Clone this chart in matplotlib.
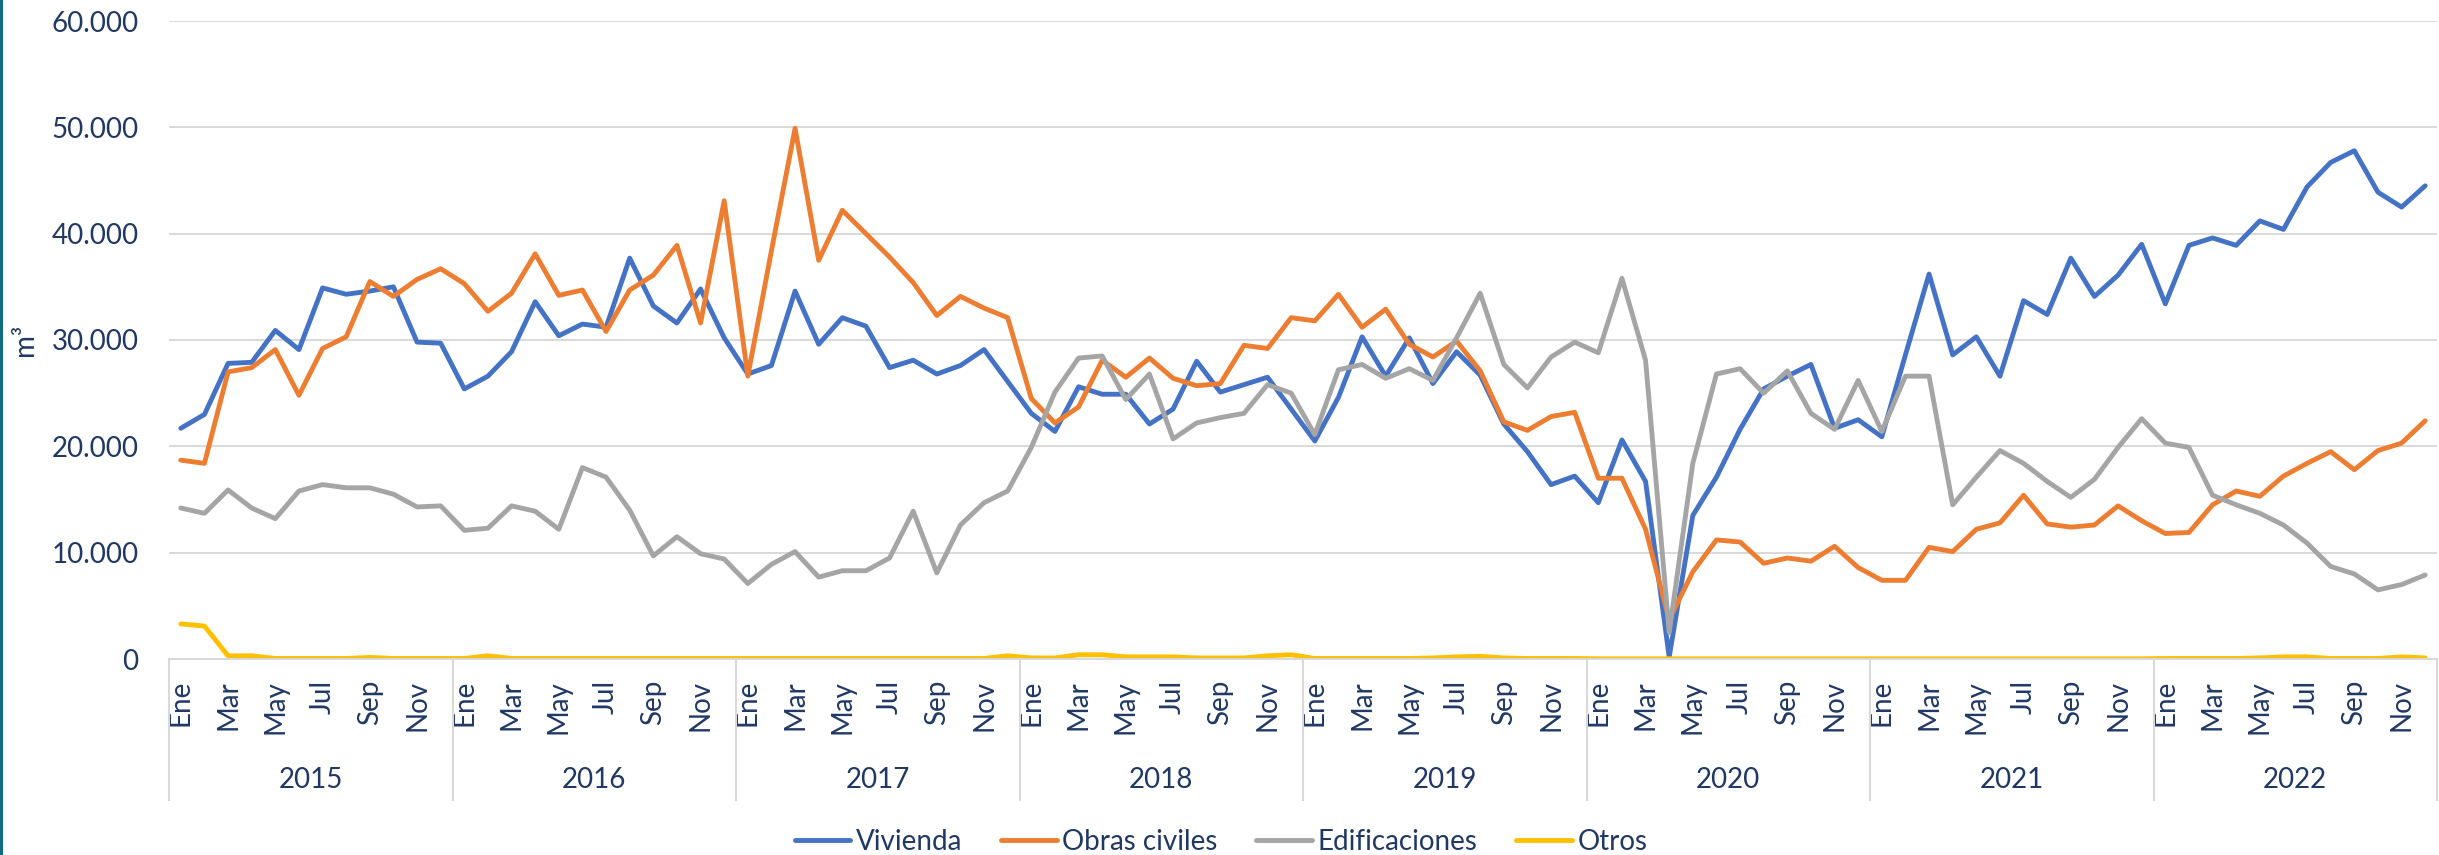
import matplotlib
matplotlib.use("Agg")
import matplotlib.pyplot as plt
import matplotlib.transforms as mtransforms
from matplotlib.patches import Rectangle
from matplotlib.ticker import FuncFormatter
import numpy as np

plt.rcParams['font.family'] = ['Lato', 'DejaVu Sans']

years = ['2015', '2016', '2017', '2018', '2019', '2020', '2021', '2022']
month_labels = ['Ene', 'Mar', 'May', 'Jul', 'Sep', 'Nov']

# monthly values, thousands of m3 (Ene 2015 .. Dic 2022)
vivienda = [21.7, 23.0, 27.8, 27.9, 30.9, 29.1, 34.9, 34.3, 34.6, 35.0, 29.8, 29.7,
            25.4, 26.6, 28.9, 33.6, 30.4, 31.5, 31.2, 37.7, 33.2, 31.6, 34.8, 30.2,
            26.8, 27.6, 34.6, 29.6, 32.1, 31.3, 27.4, 28.1, 26.8, 27.6, 29.1, 26.1,
            23.1, 21.4, 25.6, 24.9, 24.9, 22.1, 23.5, 28.0, 25.1, 25.8, 26.5, 23.5,
            20.5, 24.6, 30.3, 26.6, 30.2, 25.9, 28.9, 26.7, 22.1, 19.5, 16.4, 17.2,
            14.7, 20.6, 16.7, 0.2, 13.5, 17.1, 21.6, 25.4, 26.6, 27.7, 21.7, 22.5,
            20.9, 28.6, 36.2, 28.6, 30.3, 26.6, 33.7, 32.4, 37.7, 34.1, 36.1, 39.0,
            33.4, 38.9, 39.6, 38.9, 41.2, 40.4, 44.4, 46.7, 47.8, 43.9, 42.5, 44.5]

obras_civiles = [18.7, 18.4, 27.0, 27.4, 29.1, 24.8, 29.2, 30.3, 35.5, 34.1, 35.7, 36.7,
                 35.3, 32.7, 34.4, 38.1, 34.2, 34.7, 30.8, 34.7, 36.1, 38.9, 31.6, 43.1,
                 26.6, 38.4, 49.9, 37.5, 42.2, 40.0, 37.8, 35.4, 32.3, 34.1, 33.0, 32.1,
                 24.5, 22.2, 23.7, 28.1, 26.5, 28.3, 26.4, 25.7, 25.9, 29.5, 29.2, 32.1,
                 31.8, 34.3, 31.2, 32.9, 29.6, 28.4, 29.9, 27.1, 22.3, 21.5, 22.8, 23.2,
                 17.0, 17.0, 12.2, 3.7, 8.2, 11.2, 11.0, 9.0, 9.5, 9.2, 10.6, 8.6,
                 7.4, 7.4, 10.5, 10.1, 12.2, 12.8, 15.4, 12.7, 12.4, 12.6, 14.4, 13.0,
                 11.8, 11.9, 14.5, 15.8, 15.3, 17.2, 18.4, 19.5, 17.8, 19.6, 20.3, 22.4]

edificaciones = [14.2, 13.7, 15.9, 14.2, 13.2, 15.8, 16.4, 16.1, 16.1, 15.5, 14.3, 14.4,
                 12.1, 12.3, 14.4, 13.9, 12.2, 18.0, 17.1, 14.0, 9.7, 11.5, 9.9, 9.4,
                 7.1, 8.9, 10.1, 7.7, 8.3, 8.3, 9.5, 13.9, 8.1, 12.6, 14.7, 15.8,
                 19.9, 25.1, 28.3, 28.5, 24.4, 26.8, 20.7, 22.2, 22.7, 23.1, 25.8, 25.0,
                 21.1, 27.2, 27.7, 26.4, 27.3, 26.2, 30.2, 34.4, 27.7, 25.5, 28.4, 29.8,
                 28.8, 35.8, 28.1, 2.5, 18.4, 26.8, 27.3, 25.0, 27.1, 23.1, 21.6, 26.2,
                 21.4, 26.6, 26.6, 14.5, 17.1, 19.6, 18.4, 16.7, 15.2, 16.9, 19.9, 22.6,
                 20.3, 19.9, 15.4, 14.5, 13.7, 12.6, 10.9, 8.7, 8.0, 6.5, 7.0, 7.9]

otros = [3.3, 3.1, 0.3, 0.3, 0.05, 0.05, 0.05, 0.05, 0.15, 0.05, 0.05, 0.05,
         0.05, 0.3, 0.05, 0.05, 0.05, 0.05, 0.05, 0.05, 0.05, 0.05, 0.05, 0.05,
         0.05, 0.05, 0.05, 0.05, 0.05, 0.05, 0.05, 0.05, 0.05, 0.05, 0.05, 0.3,
         0.1, 0.1, 0.4, 0.4, 0.2, 0.2, 0.2, 0.1, 0.1, 0.1, 0.3, 0.4,
         0.05, 0.05, 0.05, 0.05, 0.05, 0.1, 0.2, 0.25, 0.1, 0.05, 0.05, 0.05,
         0.02, 0.02, 0.02, 0.02, 0.02, 0.02, 0.02, 0.02, 0.02, 0.02, 0.02, 0.02,
         0.02, 0.02, 0.02, 0.02, 0.02, 0.02, 0.02, 0.02, 0.02, 0.02, 0.02, 0.02,
         0.05, 0.05, 0.05, 0.05, 0.1, 0.2, 0.2, 0.05, 0.05, 0.05, 0.2, 0.1]

series = [('Vivienda', vivienda, '#4472C4'),
          ('Obras civiles', obras_civiles, '#ED7D31'),
          ('Edificaciones', edificaciones, '#A5A5A5'),
          ('Otros', otros, '#FFC000')]

text_color = '#203864'
grid_color = '#D9D9D9'

fig = plt.figure(figsize=(24.39, 8.55), dpi=100)
ax = fig.add_axes([169/2439, 1 - 659/855, (2437 - 169)/2439, (659 - 21)/855])

x = np.arange(96)
for name, vals, col in series:
    ax.plot(x, np.array(vals) * 1000, color=col, lw=3.5, label=name,
            solid_capstyle='round', solid_joinstyle='round')

ax.set_xlim(-0.5, 95.5)
ax.set_ylim(0, 60000)
ax.set_yticks(np.arange(0, 60001, 10000))
ax.yaxis.set_major_formatter(FuncFormatter(lambda v, p: f'{int(v):,}'.replace(',', '.')))
ax.grid(axis='y', color=grid_color, lw=1.4)
ax.set_axisbelow(True)

for s in ['top', 'right', 'left']:
    ax.spines[s].set_visible(False)
ax.spines['bottom'].set_color(grid_color)
ax.spines['bottom'].set_linewidth(1.5)

ax.set_xticks(np.arange(0, 96, 2))
ax.set_xticklabels(month_labels * len(years), rotation=90)
ax.tick_params(axis='x', length=0, pad=15, labelsize=20, labelcolor=text_color)
ax.tick_params(axis='y', length=0, pad=22, labelsize=20, labelcolor=text_color)

trans = mtransforms.blended_transform_factory(ax.transData, ax.transAxes)
for k, yr in enumerate(years):
    ax.text(12 * k + 5.5, -0.19, yr, transform=trans, ha='center', va='center',
            fontsize=20, color=text_color)
for k in range(len(years) + 1):
    ax.plot([12 * k - 0.5, 12 * k - 0.5], [0, -0.221], transform=trans,
            color=grid_color, lw=1.5, clip_on=False)

fig.text(25/2439, 1 - 340/855, 'm³', rotation=90, ha='center', va='center',
         fontsize=20, color=text_color)

leg = fig.legend(loc='center', bbox_to_anchor=(0.5006, 1 - 842/855), ncol=4,
                 frameon=False, fontsize=20, handlelength=2.0, handletextpad=0.2,
                 columnspacing=1.4, borderpad=0)
for t in leg.get_texts():
    t.set_color(text_color)

fig.add_artist(Rectangle((0, 0), 3/2439, 1, transform=fig.transFigure,
                         color='#136B7F', lw=0))

fig.savefig('out.png', dpi=100)
